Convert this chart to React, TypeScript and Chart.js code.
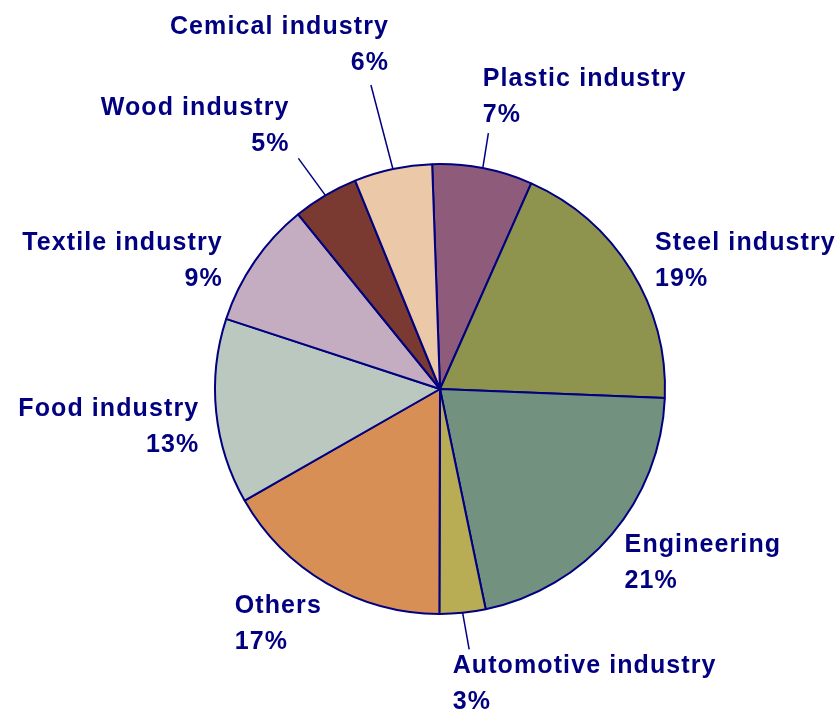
import React, { useEffect, useRef } from "react";
import { Chart, registerables } from "chart.js";

Chart.register(...registerables);

const categories = [
  "Plastic industry",
  "Steel industry",
  "Engineering",
  "Automotive industry",
  "Others",
  "Food industry",
  "Textile industry",
  "Wood industry",
  "Cemical industry",
];
const shares = [7.2, 19.0, 21.1, 3.3, 16.7, 13.3, 9.1, 4.7, 5.6];
const percentLabels = ["7%", "19%", "21%", "3%", "17%", "13%", "9%", "5%", "6%"];
const sliceColors = [
  "#8E5B7B",
  "#8E944E",
  "#73917F",
  "#B8AD55",
  "#D88F56",
  "#BBC8BF",
  "#C4ADC0",
  "#7B3A31",
  "#EBC8A8",
];

// label placement relative to the outer edge midpoint of each slice
type LabelLayout = { align: "left" | "right"; dx: number; dy: number; leader?: [number, number] };
const labelLayout: LabelLayout[] = [
  { align: "left", dx: 0, dy: -88.5, leader: [5.6, -35] },
  { align: "left", dx: 24, dy: -27 },
  { align: "left", dx: 13, dy: 10.5 },
  { align: "left", dx: -10, dy: 53.5, leader: [6.5, 36.5] },
  { align: "left", dx: -92, dy: 22.5 },
  { align: "right", dx: -18, dy: -3 },
  { align: "right", dx: -33, dy: -18 },
  { align: "right", dx: -37, dy: -87, leader: [-27, -37] },
  { align: "right", dx: -5, dy: -141.5, leader: [-22, -84] },
];

const NAVY = "#000080";

const labelPlugin = {
  id: "outsideLabels",
  afterDatasetsDraw(chart: any) {
    const ctx = chart.ctx as CanvasRenderingContext2D;
    const meta = chart.getDatasetMeta(0);
    ctx.save();
    meta.data.forEach((arc: any, i: number) => {
      const { x, y, startAngle, endAngle, outerRadius } = arc.getProps(
        ["x", "y", "startAngle", "endAngle", "outerRadius"],
        true
      );
      const mid = (startAngle + endAngle) / 2;
      const px = x + outerRadius * Math.cos(mid);
      const py = y + outerRadius * Math.sin(mid);
      const lay = labelLayout[i];
      if (lay.leader) {
        ctx.strokeStyle = NAVY;
        ctx.lineWidth = 1.5;
        ctx.beginPath();
        ctx.moveTo(px, py);
        ctx.lineTo(px + lay.leader[0], py + lay.leader[1]);
        ctx.stroke();
      }
      ctx.fillStyle = NAVY;
      ctx.font = "bold 25px 'Liberation Sans', Arial, sans-serif";
      (ctx as any).letterSpacing = "1.1px";
      ctx.textAlign = lay.align;
      ctx.textBaseline = "middle";
      const tx = px + lay.dx + (lay.align === "right" ? 1.1 : 0);
      const ty = py + lay.dy;
      ctx.fillText(categories[i], tx, ty);
      ctx.fillText(percentLabels[i], tx, ty + 36);
    });
    ctx.restore();
  },
};

export default function App() {
  const canvasRef = useRef<HTMLCanvasElement | null>(null);

  useEffect(() => {
    const canvas = canvasRef.current;
    if (!canvas) return;
    const chart = new Chart(canvas, {
      type: "pie",
      data: {
        labels: categories,
        datasets: [
          {
            data: shares,
            backgroundColor: sliceColors,
            borderColor: NAVY,
            borderWidth: 2,
            hoverOffset: 0,
          },
        ],
      },
      options: {
        responsive: false,
        animation: false,
        rotation: -2,
        radius: 225,
        layout: { padding: { left: 215, right: 175, top: 164, bottom: 98 } },
        plugins: {
          legend: { display: false },
          tooltip: { enabled: false },
        },
      },
      plugins: [labelPlugin],
    });
    return () => chart.destroy();
  }, []);

  return (
    <div style={{ position: "fixed", left: 0, top: 0, width: 840, height: 712, background: "#fff" }}>
      <canvas ref={canvasRef} width={840} height={712} style={{ width: 840, height: 712 }} />
    </div>
  );
}
